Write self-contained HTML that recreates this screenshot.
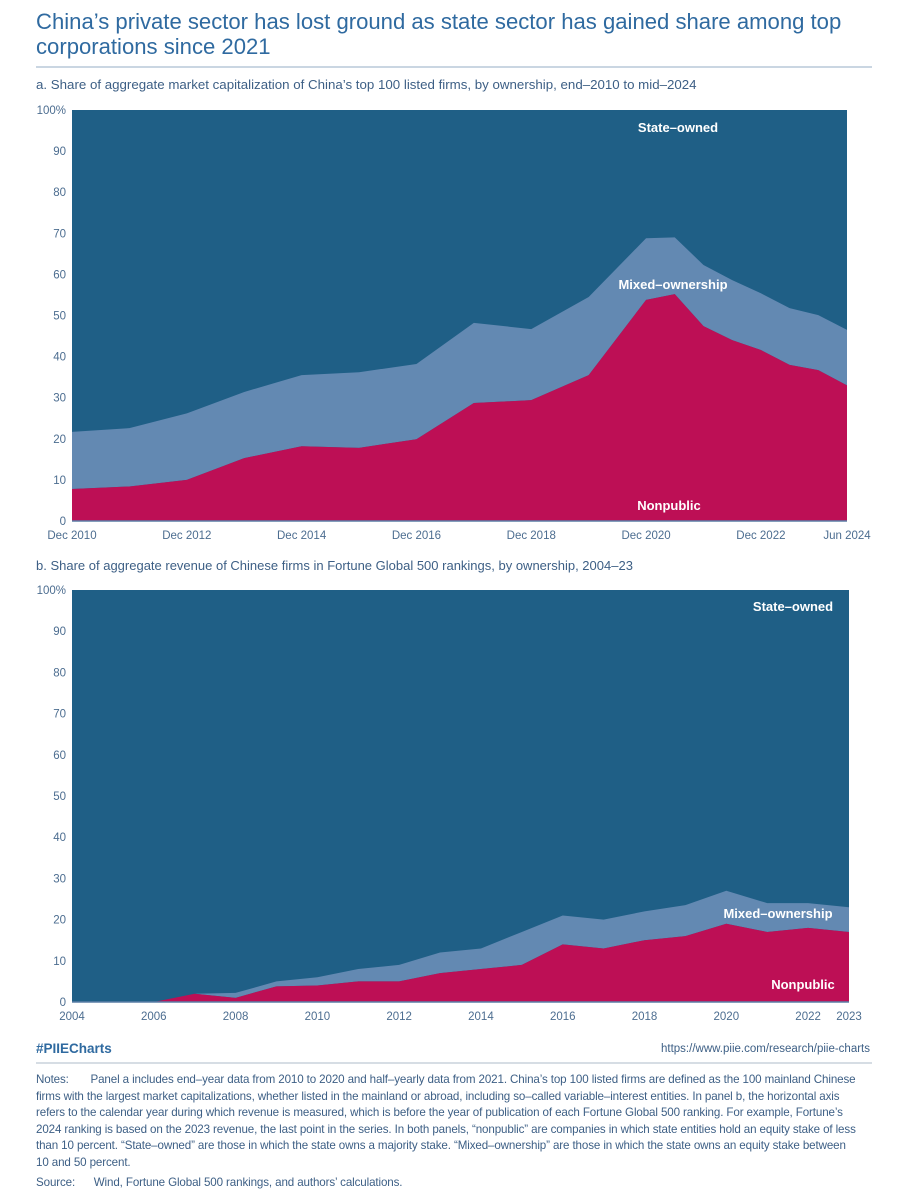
<!DOCTYPE html>
<html><head><meta charset="utf-8"><style>
body{margin:0;background:#fff;width:916px;height:1200px;overflow:hidden;font-family:"Liberation Sans",sans-serif;}
svg{display:block}
.notes{position:absolute;left:36px;top:1072px;width:860px;font-size:11.6px;line-height:16.6px;color:#3d5f85;letter-spacing:-0.12px;white-space:nowrap}
</style></head><body>
<svg id="chart" width="916" height="1200" viewBox="0 0 916 1200" xmlns="http://www.w3.org/2000/svg" font-family="Liberation Sans, sans-serif">
<text x="36" y="29" font-size="22.1" fill="#2f6aa0">China’s private sector has lost ground as state sector has gained share among top</text>
<text x="36" y="54" font-size="22.1" fill="#2f6aa0">corporations since 2021</text>
<line x1="36" y1="67" x2="872" y2="67" stroke="#b8c8d8" stroke-width="1.5"/>
<text x="36" y="89" font-size="13.3" fill="#3d5f85">a. Share of aggregate market capitalization of China’s top 100 listed firms, by ownership, end–2010 to mid–2024</text>
<text x="36" y="570" font-size="13" fill="#3d5f85">b. Share of aggregate revenue of Chinese firms in Fortune Global 500 rankings, by ownership, 2004–23</text>
<g id="pa"></g>
<g id="pb"></g>
<text x="36" y="1053" font-size="13.5" font-weight="bold" fill="#2f6aa0">#PIIECharts</text>
<text x="870" y="1052" font-size="11.5" fill="#3d5f85" text-anchor="end">https://www.piie.com/research/piie-charts</text>
<line x1="36" y1="1063" x2="872" y2="1063" stroke="#c8d2dc" stroke-width="1.5"/>
</svg>
<div class="notes">Notes:&nbsp;&nbsp;&nbsp;&nbsp;&nbsp;&nbsp; Panel a includes end–year data from 2010 to 2020 and half–yearly data from 2021. China’s top 100 listed firms are defined as the 100 mainland Chinese<br>firms with the largest market capitalizations, whether listed in the mainland or abroad, including so–called variable–interest entities. In panel b, the horizontal axis<br>refers to the calendar year during which revenue is measured, which is before the year of publication of each Fortune Global 500 ranking. For example, Fortune’s<br>2024 ranking is based on the 2023 revenue, the last point in the series. In both panels, “nonpublic” are companies in which state entities hold an equity stake of less<br>than 10 percent. “State–owned” are those in which the state owns a majority stake. “Mixed–ownership” are those in which the state owns an equity stake between<br>10 and 50 percent.<div style="margin-top:3px">Source:&nbsp;&nbsp;&nbsp;&nbsp;&nbsp; Wind, Fortune Global 500 rankings, and authors’ calculations.</div></div>
<script>
// Panel a data (time in years since Dec 2010)
const aTimes = [0,1,2,3,4,5,6,7,8,9,10,10.5,11,11.5,12,12.5,13,13.5];
const aNonpublic = [7.8,8.4,10,15.3,18.2,17.8,19.9,28.7,29.4,35.5,53.8,55.2,47.4,44,41.6,38,36.7,33];
const aMixed = [13.9,14.2,16.2,16.1,17.3,18.4,18.3,19.5,17.3,19,15,13.8,14.9,14.6,13.8,13.8,13.4,13.5];
const aTickPos = [0,2,4,6,8,10,12,13.5];
const aTickLabels = ["Dec 2010","Dec 2012","Dec 2014","Dec 2016","Dec 2018","Dec 2020","Dec 2022","Jun 2024"];
// Panel b data
const bYears = [2004,2005,2006,2007,2008,2009,2010,2011,2012,2013,2014,2015,2016,2017,2018,2019,2020,2021,2022,2023];
const bNonpublic = [0,0,0,2,1,3.8,4,5,5,7,8,9,14,13,15,16,19,17,18,17];
const bMixed = [0,0,0,0,1.2,1.2,2,3,4,5,5,8,7,7,7,7.5,8,7,6,6];
const bTickPos = [2004,2006,2008,2010,2012,2014,2016,2018,2020,2022,2023];
const bTickLabels = ["2004","2006","2008","2010","2012","2014","2016","2018","2020","2022","2023"];
const yTicks = [0,10,20,30,40,50,60,70,80,90,100];

const NS="http://www.w3.org/2000/svg";
function mk(parent,tag,attrs){const e=document.createElementNS(NS,tag);for(const k in attrs)e.setAttribute(k,attrs[k]);parent.appendChild(e);return e;}
function panel(g,xs,np,mx,x0,x1,d0,d1,yTop,yBot,tickPos,tickLabels,labels,prefix){
  const X=v=>x0+(v-d0)/(d1-d0)*(x1-x0);
  const Y=v=>yBot-v/100*(yBot-yTop);
  const st=mk(g,'rect',{x:x0,y:yTop,width:x1-x0,height:yBot-yTop,fill:'#1f5f86'});
  
  
  const top=xs.map((x,i)=>X(x)+','+Y(np[i]+mx[i]));
  const mid=xs.map((x,i)=>X(x)+','+Y(np[i]));
  const ma=mk(g,'polygon',{points:top.concat(mid.slice().reverse()).join(' '),fill:'#6389b2'});
  
  
  const na=mk(g,'polygon',{points:mid.concat([X(xs[xs.length-1])+','+Y(0),X(xs[0])+','+Y(0)]).join(' '),fill:'#bd0f55'});
  
  
  yTicks.forEach(t=>{
    const tx=mk(g,'text',{x:x0-6,y:Y(t)+4,'font-size':11.5,fill:'#4c6d90','text-anchor':'end'});
    tx.textContent=t===100?'100%':String(t);
    
    
  });
  const ax=mk(g,'line',{x1:x0,y1:yBot,x2:x1,y2:yBot,stroke:'#5a7ea6','stroke-width':1.5});
  
  
  tickPos.forEach((p,i)=>{
    const tx=mk(g,'text',{x:X(p),y:yBot+18,'font-size':11.5,fill:'#4c6d90','text-anchor':'middle'});
    tx.textContent=tickLabels[i];
    
    
  });
  labels.forEach(l=>{
    const tx=mk(g,'text',{x:l[1],y:l[2],'font-size':13,'font-weight':'bold',fill:'#fff','text-anchor':'middle'});
    tx.textContent=l[0];
    
    
  });
}
panel(document.getElementById('pa'),aTimes,aNonpublic,aMixed,72,847,0,13.5,110,521,aTickPos,aTickLabels,
  [['State–owned',678,132],['Mixed–ownership',673,289],['Nonpublic',669,510]],'panel-a');
panel(document.getElementById('pb'),bYears,bNonpublic,bMixed,72,849,2004,2023,590,1002,bTickPos,bTickLabels,
  [['State–owned',793,611],['Mixed–ownership',778,918],['Nonpublic',803,989]],'panel-b');
</script>
</body></html>
